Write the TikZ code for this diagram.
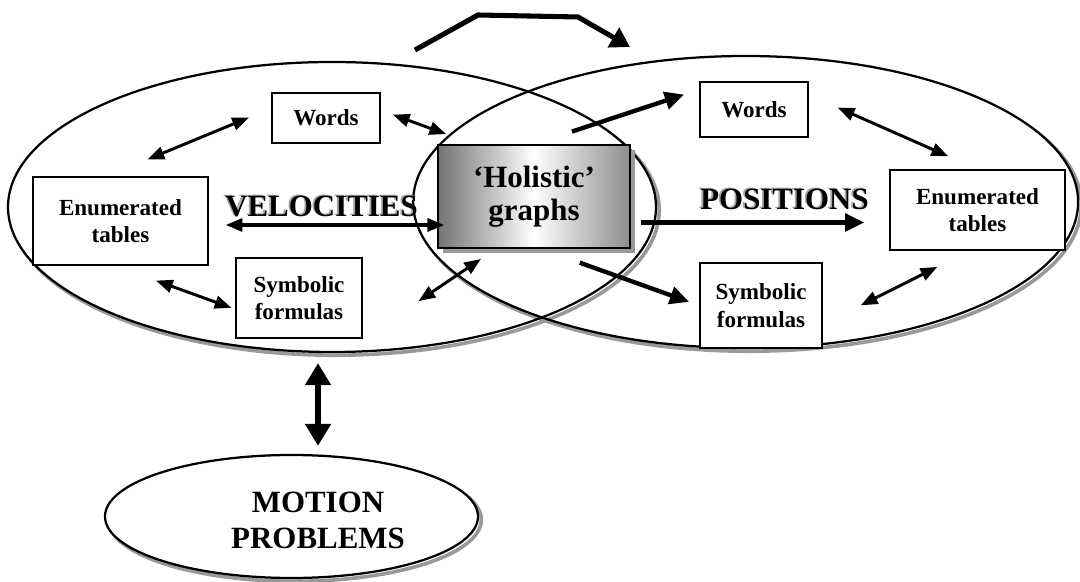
\documentclass[tikz,border=0pt]{standalone}
\usepackage{fontspec}
\setmainfont{Liberation Serif}
\usetikzlibrary{shapes.geometric,arrows.meta,shadows}

\tikzset{
  ring/.style={ellipse,draw,line width=1.6pt,inner sep=0pt},
  ringshade/.style={draw=black!40,line width=2.6pt},
  card/.style={rectangle,draw,line width=1.1pt,fill=white,inner sep=0pt,align=center,
    font=\fontsize{16.4}{19.5}\selectfont\bfseries},
  hub/.style={rectangle,draw,line width=1.3pt,inner sep=0pt,align=center,
    left color=black!55,right color=black!45,middle color=white,
    drop shadow={shadow xshift=0.13cm,shadow yshift=-0.13cm,fill=black!40,opacity=1},
    font=\fontsize{22}{23.5}\selectfont\bfseries},
  bigword/.style={font=\fontsize{22}{25.5}\selectfont\bfseries,inner sep=0pt,align=center},
  link/.style={{Triangle[length=0.42cm,width=0.32cm]}-{Triangle[length=0.42cm,width=0.32cm]},line width=2.1pt},
  push/.style={-{Triangle[length=0.48cm,width=0.44cm]},line width=3.1pt},
  fatlink/.style={{Triangle[length=0.55cm,width=0.62cm]}-{Triangle[length=0.55cm,width=0.62cm]},line width=4.2pt},
}

\begin{document}
\begin{tikzpicture}
\useasboundingbox (0,0) rectangle (27,14.525);

% grey shadows, kept outside each ellipse
\begin{scope}[even odd rule]
 \clip (0,0) rectangle (27,14.525) (8.3,9.35) ellipse [x radius=8.1,y radius=3.625];
 \draw[ringshade] (8.38,9.27) ellipse [x radius=8.1,y radius=3.625];
\end{scope}
\begin{scope}[even odd rule]
 \clip (0,0) rectangle (27,14.525) (18.64,9.475) ellipse [x radius=8.3125,y radius=3.65];
 \draw[ringshade] (18.72,9.395) ellipse [x radius=8.3125,y radius=3.65];
\end{scope}
\draw[ringshade] (7.37,1.53) ellipse [x radius=4.6625,y radius=1.5375];

\node[ring,minimum width=16.2cm,minimum height=7.25cm] (vel) at (8.3,9.35) {};
\node[ring,minimum width=16.625cm,minimum height=7.3cm] (pos) at (18.64,9.475) {};
\node[ring,fill=white,minimum width=9.325cm,minimum height=3.075cm] (motion) at (7.2875,1.6125) {};

\draw[line width=3.6pt,-{Triangle[length=0.48cm,width=0.55cm]}] (10.375,13.275) -- (11.95,14.15) -- (14.45,14.1) -- (15.75,13.35);

\node[card,minimum width=2.7cm,minimum height=1.25cm] (wordsL) at (8.15,11.575) {Words};
\node[card,minimum width=4.375cm,minimum height=2.2cm] (tablesL) at (3.0125,9.0) {Enumerated\\tables};
\node[card,minimum width=3.15cm,minimum height=2.0cm] (formulasL) at (7.475,7.075) {Symbolic\\formulas};
\node[card,minimum width=2.7cm,minimum height=1.375cm] (wordsR) at (18.85,11.7875) {Words};
\node[card,minimum width=4.375cm,minimum height=2.0cm] (tablesR) at (24.4375,9.275) {Enumerated\\tables};
\node[card,minimum width=3.05cm,minimum height=2.125cm] (formulasR) at (19.025,6.8875) {Symbolic\\formulas};
\node[hub,minimum width=4.8cm,minimum height=2.575cm] (graphs) at (13.35,9.6125) {‘Holistic’\\graphs};

\node[bigword,text=black!35,anchor=base west] (velshade) at (5.58,9.14) {VELOCITIES};
\node[bigword,anchor=base west] (veltext) at (5.625,9.1) {VELOCITIES};
\node[bigword,text=black!35,anchor=base west] (posshade) at (17.455,9.315) {POSITIONS};
\node[bigword,anchor=base west] (postext) at (17.5,9.275) {POSITIONS};
\node[bigword] (motiontext) at (7.95,1.525) {MOTION\\PROBLEMS};

\draw[link,shorten <=0.6cm,shorten >=1.1cm] (wordsL.170) -- (tablesL.107);
\draw[link,shorten <=0.32cm,shorten >=0.73cm] (wordsL.8) -- (graphs.139);
\draw[link,shorten <=1.09cm,shorten >=0.1cm] (tablesL.-97) -- (formulasL.190);
\draw[link,shorten <=1.68cm,shorten >=0.45cm] (formulasL.south east) -- (graphs.234);
\draw[link,line width=2.6pt,shorten <=0.42cm,shorten >=-0.18cm] ([yshift=-0.1cm]tablesL.east) -- ([yshift=-0.1cm]tablesL.east -| graphs.west);

\draw[push,shorten <=1.0cm,shorten >=0.4cm] (graphs.north) -- (wordsR.160);
\draw[push,shorten <=0.25cm,shorten >=0.625cm] ([yshift=-0.65cm]graphs.east) -- ([yshift=-0.65cm]graphs.east -| tablesR.west);
\draw[push,shorten <=1.02cm,shorten >=0.27cm] (graphs.-82) -- (formulasR.west);
\draw[link,shorten <=0.79cm,shorten >=0.8cm] (wordsR.15) -- (tablesR.north);
\draw[link,shorten <=1.06cm,shorten >=0.9cm] (formulasR.-17) -- (tablesR.-101);

\draw[fatlink] ([xshift=-0.35cm,yshift=-0.25cm]vel.south) -- ([xshift=0.6625cm,yshift=0.2cm]motion.north);
\end{tikzpicture}
\end{document}
